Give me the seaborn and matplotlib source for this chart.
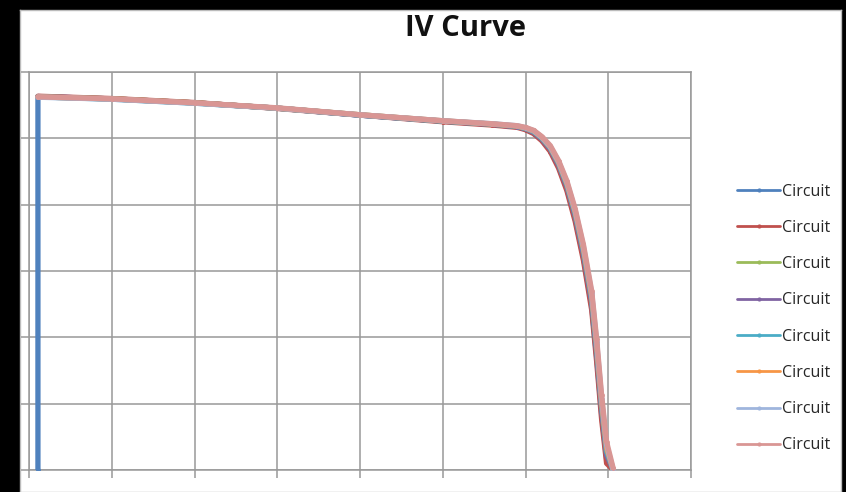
import matplotlib
matplotlib.use("Agg")
import matplotlib.pyplot as plt
import seaborn as sns
import pandas as pd

# ---- data ----
series_names = ["Circuit"] * 8
colors = ["#4F81BD", "#C0504D", "#9BBB59", "#8064A2",
          "#4BACC6", "#F79646", "#9FB5DD", "#D99694"]

voltage = [0.54, 5, 10, 15, 20, 25, 28, 29.5, 30.0, 30.5, 31.0, 31.5, 32.0,
           32.5, 33.0, 33.5, 34.0, 34.3, 34.6, 34.9, 35.3]
voltage_blue = [0.54] + voltage

current_blue = [0.0, 11.26, 11.19, 11.07, 10.91, 10.70, 10.52, 10.42, 10.35,
                10.28, 10.17, 9.95, 9.64, 9.15, 8.48, 7.58, 6.42, 4.94, 3.40,
                1.68, 0.34, 0.0]
current_red = [11.27, 11.20, 11.08, 10.90, 10.70, 10.50, 10.40, 10.33, 10.26,
               10.14, 9.92, 9.60, 9.10, 8.42, 7.50, 6.32, 4.82, 3.26, 1.52,
               0.20, 0.0]
current_green = [11.25, 11.19, 11.07, 10.91, 10.71, 10.52, 10.43, 10.36,
                 10.30, 10.20, 9.99, 9.69, 9.22, 8.57, 7.69, 6.55, 5.10, 3.60,
                 1.88, 0.50, 0.0]
current_purple = [11.26, 11.19, 11.07, 10.91, 10.70, 10.52, 10.42, 10.35,
                  10.29, 10.18, 9.97, 9.67, 9.19, 8.54, 7.65, 6.50, 5.04,
                  3.52, 1.80, 0.44, 0.0]
current_aqua = [11.25, 11.18, 11.06, 10.91, 10.70, 10.52, 10.43, 10.36,
                10.30, 10.20, 10.00, 9.71, 9.24, 8.60, 7.73, 6.60, 5.16, 3.66,
                1.94, 0.56, 0.0]
current_orange = [11.25, 11.19, 11.07, 10.91, 10.71, 10.53, 10.43, 10.37,
                  10.31, 10.22, 10.02, 9.73, 9.27, 8.64, 7.78, 6.67, 5.24,
                  3.76, 2.04, 0.66, 0.0]
current_lightblue = [11.24, 11.18, 11.06, 10.91, 10.71, 10.53, 10.44, 10.38,
                     10.32, 10.23, 10.03, 9.75, 9.30, 8.68, 7.83, 6.74, 5.33,
                     3.86, 2.15, 0.76, 0.0]
current_pink = [11.25, 11.19, 11.07, 10.92, 10.71, 10.53, 10.44, 10.38,
                10.33, 10.24, 10.05, 9.78, 9.33, 8.72, 7.88, 6.80, 5.40,
                3.95, 2.25, 0.85, 0.05]

x_ticks = [0, 5, 10, 15, 20, 25, 30, 35, 40]
y_ticks = [0, 2, 4, 6, 8, 10, 12]

currents = [current_blue, current_red, current_green, current_purple,
            current_aqua, current_orange, current_lightblue, current_pink]
voltages = [voltage_blue] + [voltage] * 7

frames = []
for i, (v, c) in enumerate(zip(voltages, currents)):
    frames.append(pd.DataFrame({"V": v, "I": c, "series": i}))
df = pd.concat(frames, ignore_index=True)

# ---- figure ----
sns.set_style("white")
plt.rcParams["font.family"] = ["Open Sans", "DejaVu Sans"]

W, H = 846, 492
fig = plt.figure(figsize=(W / 100, H / 100), dpi=100, facecolor="black")
bg = fig.add_axes([20 / W, 0, (841 - 20) / W, 1 - 10 / H], zorder=-5)
bg.set_facecolor("white")
bg.set_xticks([])
bg.set_yticks([])
for s in bg.spines.values():
    s.set_color("#bbbbbb")
    s.set_linewidth(1)

ax = fig.add_axes([29 / W, 1 - 470 / H, (691 - 29) / W, (470 - 72) / H],
                  zorder=2)
ax.set_facecolor("white")

handles = []
for i in range(8):
    sub = df[df["series"] == i]
    sns.lineplot(data=sub, x="V", y="I", sort=False, ax=ax, color=colors[i],
                 lw=3.8, marker="o", markersize=3.5, markeredgewidth=0,
                 estimator=None, zorder=3 + i)
    handles.append(plt.Line2D([], [], color=colors[i], lw=2, marker="o",
                              markersize=3, markeredgewidth=0))

ax.set_xlim(x_ticks[0], x_ticks[-1])
ax.set_ylim(y_ticks[0], y_ticks[-1])
ax.set_xticks(x_ticks)
ax.set_yticks(y_ticks)
ax.set_xticklabels([])
ax.set_yticklabels([])
ax.set_xlabel("")
ax.set_ylabel("")
ax.grid(True, color="#999999", lw=1.1)
for s in ax.spines.values():
    s.set_color("#999999")
    s.set_linewidth(1.1)
ax.tick_params(axis="both", direction="out", length=6, color="#999999",
               width=1.1, bottom=True, left=True)

fig.text(465 / W, 1 - 28 / H, "IV Curve", ha="center", va="center",
         fontsize=21, fontweight="bold", color="#111111", zorder=10)

fig.legend(handles, series_names, loc="center left",
           bbox_to_anchor=(729 / W, 1 - 318.5 / H), frameon=False,
           fontsize=11.5, handlelength=2.7, handletextpad=0.1,
           labelspacing=1.27, borderpad=0)

fig.savefig("out.png", dpi=100, facecolor="black")
